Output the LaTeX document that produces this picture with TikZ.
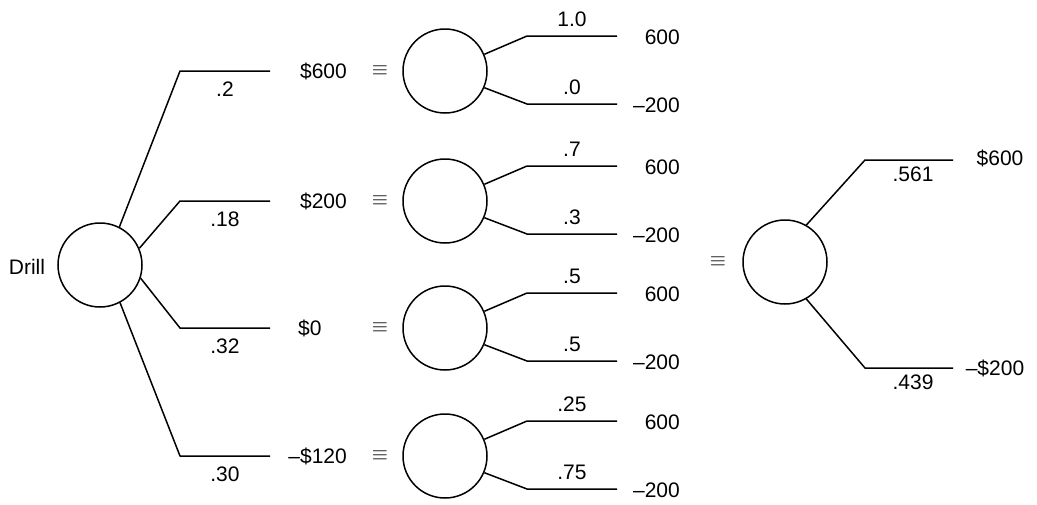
\documentclass[tikz,border=0pt]{standalone}
\usepackage{fontspec}
\setmainfont{Liberation Sans}
\begin{document}
\begin{tikzpicture}[x=1pt,y=-1pt,
  chance/.style={draw,circle,minimum size=84pt,inner sep=0pt,line width=1.5pt},
  branch/.style={line width=1.5pt,line join=round},
  lbl/.style={inner sep=0pt,font=\fontsize{21}{25}\selectfont}]
\useasboundingbox (0,0) rectangle (1037,504);
% left tree
\node[chance] (d) at (100,265) {};
\node[lbl] (drill) at (27,267) {Drill};
\foreach \k/\a/\y/\p in {1/63/71/.2, 2/23/201/.18, 3/-18/328/.32, 4/-62/456/.30}{
  \coordinate (lc\k) at (180,\y);
  \coordinate (le\k) at (270,\y);
  \draw[branch] (d.\a) -- (lc\k) -- (le\k);
  \node[lbl] (lp\k) at (225,\y+18) {\p};
}
% middle trees
\foreach \i/\cy/\v/\an/\ax/\p/\q in {1/71/\$600/east/347/1.0/.0, 2/201/\$200/east/347/.7/.3, 3/328/\$0/west/298/.5/.5, 4/456/–\$120/east/347/.25/.75}{
  \node[chance] (m\i) at (445,\cy) {};
  \node[lbl,anchor=\an] (v\i) at (\ax,\cy) {\v};
  \node[lbl] (eq\i) at (380,\cy) {$\equiv$};
  \coordinate (uc\i) at (527,\cy-35);
  \coordinate (ue\i) at (617,\cy-35);
  \coordinate (dc\i) at (527,\cy+33);
  \coordinate (de\i) at (617,\cy+33);
  \draw[branch] (m\i.23) -- (uc\i) -- (ue\i);
  \draw[branch] (m\i.-23) -- (dc\i) -- (de\i);
  \node[lbl] (up\i) at (572,\cy-52) {\p};
  \node[lbl] (dp\i) at (572,\cy+16) {\q};
  \node[lbl,anchor=east] (uo\i) at (680,\cy-34) {600};
  \node[lbl,anchor=east] (do\i) at (680,\cy+34) {–200};
}
% right tree
\node[lbl] (eqr) at (718,262) {$\equiv$};
\node[chance] (r) at (785,262) {};
\coordinate (rc1) at (865,160);
\coordinate (re1) at (953,160);
\coordinate (rc2) at (865,368);
\coordinate (re2) at (953,368);
\draw[branch] (r.60) -- (rc1) -- (re1);
\draw[branch] (r.-60) -- (rc2) -- (re2);
\node[lbl] (rp1) at (913,174) {.561};
\node[lbl] (rp2) at (913,382) {.439};
\node[lbl] (ro1) at (1000,158) {\$600};
\node[lbl] (ro2) at (995,368) {–\$200};
\end{tikzpicture}
\end{document}
